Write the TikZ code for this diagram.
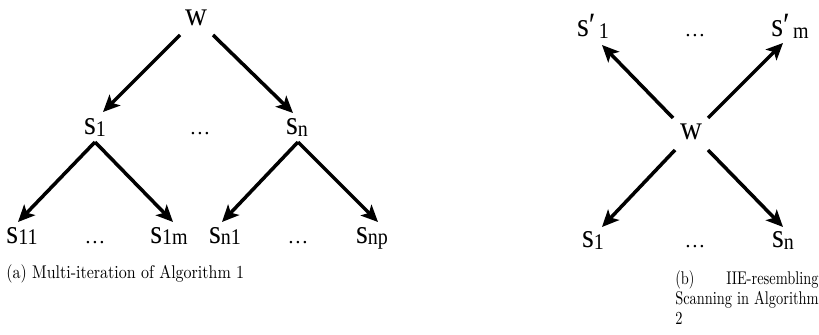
\documentclass[tikz,border=0pt]{standalone}
\usepackage{fontspec}
\usetikzlibrary{arrows.meta}
\newfontfamily\lblfont{Liberation Serif}
% letter with a lowered index, as in the figure
\newcommand{\sidx}[2]{\scalebox{1}[1.12]{{\fontsize{19}{19}\selectfont #1}\raisebox{-1pt}{\fontsize{12.5}{12.5}\selectfont #2}}}

\begin{document}
\begin{tikzpicture}[
  x=0.625pt, y=-0.625pt,
  lbl/.style={font=\lblfont, inner sep=0pt, anchor=base},
  dts/.style={lbl, font=\lblfont\fontsize{13}{13}\selectfont},
  arr/.style={-{Stealth[length=10.5pt,width=9.5pt,inset=2.5pt]}, line width=2.2pt},
  capt/.style={font=\fontsize{10}{11}\selectfont, inner sep=0pt, anchor=base west},
]
  \useasboundingbox (0,0) rectangle (819,335);

  % (a) tree of iterations
  \node[lbl] (wa)  at (196,26)  {\sidx{w}{}};
  \node[lbl] (sa1) at (95,135)  {\sidx{s}{1}};
  \node[dts] (da)  at (200,135) {\ldots};
  \node[lbl] (san) at (297,135) {\sidx{s}{n}};
  \node[lbl] (s11) at (22,243)  {\sidx{s}{11}};
  \node[dts] (d1)  at (95,243)  {\ldots};
  \node[lbl] (s1m) at (169,243) {\sidx{s}{1m}};
  \node[lbl] (sn1) at (225,243) {\sidx{s}{n1}};
  \node[dts] (dn)  at (298,243) {\ldots};
  \node[lbl] (snp) at (372,243) {\sidx{s}{np}};

  \draw[arr] ([shift={(-16,9)}]wa.base) -- ([shift={(8,-23)}]sa1.base);
  \draw[arr] ([shift={(17,9)}]wa.base) -- ([shift={(-4,-22)}]san.base);
  \draw[arr] ([shift={(0,7)}]sa1.base) -- ([shift={(-4,-21)}]s11.base);
  \draw[arr] ([shift={(0,7)}]sa1.base) -- ([shift={(4,-21)}]s1m.base);
  \draw[arr] ([shift={(1,7)}]san.base) -- ([shift={(-3,-21)}]sn1.base);
  \draw[arr] ([shift={(1,7)}]san.base) -- ([shift={(6,-21)}]snp.base);

  % (b) scanning around w
  \node[lbl] (wb)  at (691,140) {\sidx{w}{}};
  \node[lbl] (sp1) at (593,37)  {\sidx{s\char"2032}{\,1}};
  \node[dts] (dp)  at (695,37)  {\ldots};
  \node[lbl] (spm) at (790,37)  {\sidx{s\char"2032}{\,m}};
  \node[lbl] (sb1) at (593,248) {\sidx{s}{1}};
  \node[dts] (db)  at (695,248) {\ldots};
  \node[lbl] (sbn) at (783,248) {\sidx{s}{n}};

  \draw[arr] ([shift={(-18,-22)}]wb.base) -- ([shift={(9,8)}]sp1.base);
  \draw[arr] ([shift={(17,-22)}]wb.base) -- ([shift={(-7,6)}]spm.base);
  \draw[arr] ([shift={(-16,10)}]wb.base) -- ([shift={(9,-21)}]sb1.base);
  \draw[arr] ([shift={(17,10)}]wb.base) -- ([shift={(0,-21)}]sbn.base);

  % captions
  \node[capt] (capa) at (6,278) {\scalebox{1}[1.15]{(a) Multi-iteration of Algorithm 1}};
  \node[capt] (capb) at (675,284)
    {\scalebox{0.9}[1.15]{\parbox[t]{99.5pt}{\fontsize{10}{11}\selectfont
     (b) IIE-resembling\linebreak Scanning in Algorithm\linebreak 2}}};
\end{tikzpicture}
\end{document}
